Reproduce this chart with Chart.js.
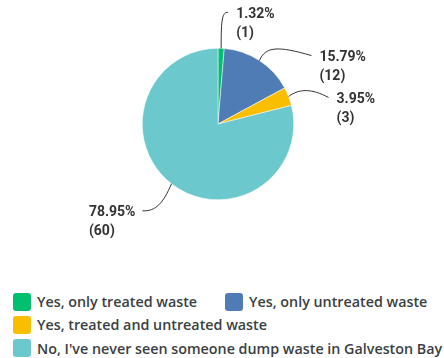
<!DOCTYPE html>
<html>
<head>
<meta charset="utf-8">
<script src="https://cdn.jsdelivr.net/npm/chart.js@4/dist/chart.umd.min.js"></script>
<style>
  html, body { margin: 0; padding: 0; background: #fff; }
  #wrap { position: relative; width: 444px; height: 358px; overflow: hidden; }
  #chart { position: absolute; left: 0; top: 0; }
  #legend {
    position: absolute; left: 13px; top: 290px; width: 431px;
    display: flex; flex-wrap: wrap; column-gap: 28px;
    font-family: "Open Sans", sans-serif; font-weight: 600; font-size: 14.3px;
    color: #3a3f44;
  }
  .item { display: flex; align-items: center; height: 23.3px; white-space: nowrap; }
  .box { width: 18px; height: 18px; border-radius: 3px; margin-right: 6px; flex: none; }
</style>
</head>
<body>
<div id="wrap">
  <canvas id="chart" width="444" height="290"></canvas>
  <div id="legend"></div>
</div>
<script>
// answers, responses and share of responses
const categories = [
    'Yes, only treated waste',
    'Yes, only untreated waste',
    'Yes, treated and untreated waste',
    "No, I've never seen someone dump waste in Galveston Bay"
];
const counts = [1, 12, 3, 60];
const percents = [1.32, 15.79, 3.95, 78.95];
const colors = ['#00bf6f', '#507cb6', '#f9be00', '#6bc8cd'];

// leader line shape per slice, offsets from the slice edge (ctrl1, ctrl2, end)
const leaders = [
    [0, -30, 1, -36, 7, -36],
    [6, -14, 18, -15, 52, -5],
    [11, -8, 23, -8, 40, 1],
    [-8, 19, -16, 28, -29, 27]
];

/**
 * Draws percent / count labels with curved leader lines
 */
const leaderLabels = {
    id: 'leaderLabels',
    afterDatasetsDraw(chart) {
        const ctx = chart.ctx;
        const meta = chart.getDatasetMeta(0);
        ctx.save();
        ctx.strokeStyle = '#333';
        ctx.lineWidth = 1;
        ctx.fillStyle = '#333';
        ctx.font = 'bold 14px Roboto, sans-serif';
        ctx.textBaseline = 'middle';
        meta.data.forEach((arc, i) => {
            const mid = (arc.startAngle + arc.endAngle) / 2;
            const x0 = arc.x + Math.cos(mid) * arc.outerRadius;
            const y0 = arc.y + Math.sin(mid) * arc.outerRadius;
            const l = leaders[i];
            const ex = x0 + l[4], ey = y0 + l[5];
            ctx.beginPath();
            ctx.moveTo(x0, y0);
            ctx.bezierCurveTo(x0 + l[0], y0 + l[1], x0 + l[2], y0 + l[3], ex, ey);
            ctx.stroke();

            const line1 = percents[i].toFixed(2) + '%';
            const line2 = '(' + counts[i] + ')';
            const right = Math.cos(mid) >= 0;
            const w = Math.max(ctx.measureText(line1).width, ctx.measureText(line2).width);
            const tx = right ? ex + 8 : ex - 7 - w;
            ctx.textAlign = 'left';
            ctx.fillText(line1, tx, ey + 2);
            ctx.fillText(line2, tx, ey + 21);
        });
        ctx.restore();
    }
};

const chart = new Chart(document.getElementById('chart'), {
    type: 'pie',
    data: {
        labels: categories,
        datasets: [{
            data: counts,
            backgroundColor: colors,
            borderColor: '#ffffff',
            borderWidth: 0.5
        }]
    },
    options: {
        responsive: false,
        animation: false,
        layout: {
            padding: { top: 48, bottom: 90, left: 142, right: 150 }
        },
        plugins: {
            legend: { display: false },
            tooltip: { enabled: false }
        }
    },
    plugins: [leaderLabels]
});

// html legend
const legend = document.getElementById('legend');
categories.forEach((name, i) => {
    const item = document.createElement('div');
    item.className = 'item';
    const box = document.createElement('span');
    box.className = 'box';
    box.style.background = colors[i];
    const text = document.createElement('span');
    text.textContent = name;
    item.appendChild(box);
    item.appendChild(text);
    legend.appendChild(item);
});
</script>
</body>
</html>
